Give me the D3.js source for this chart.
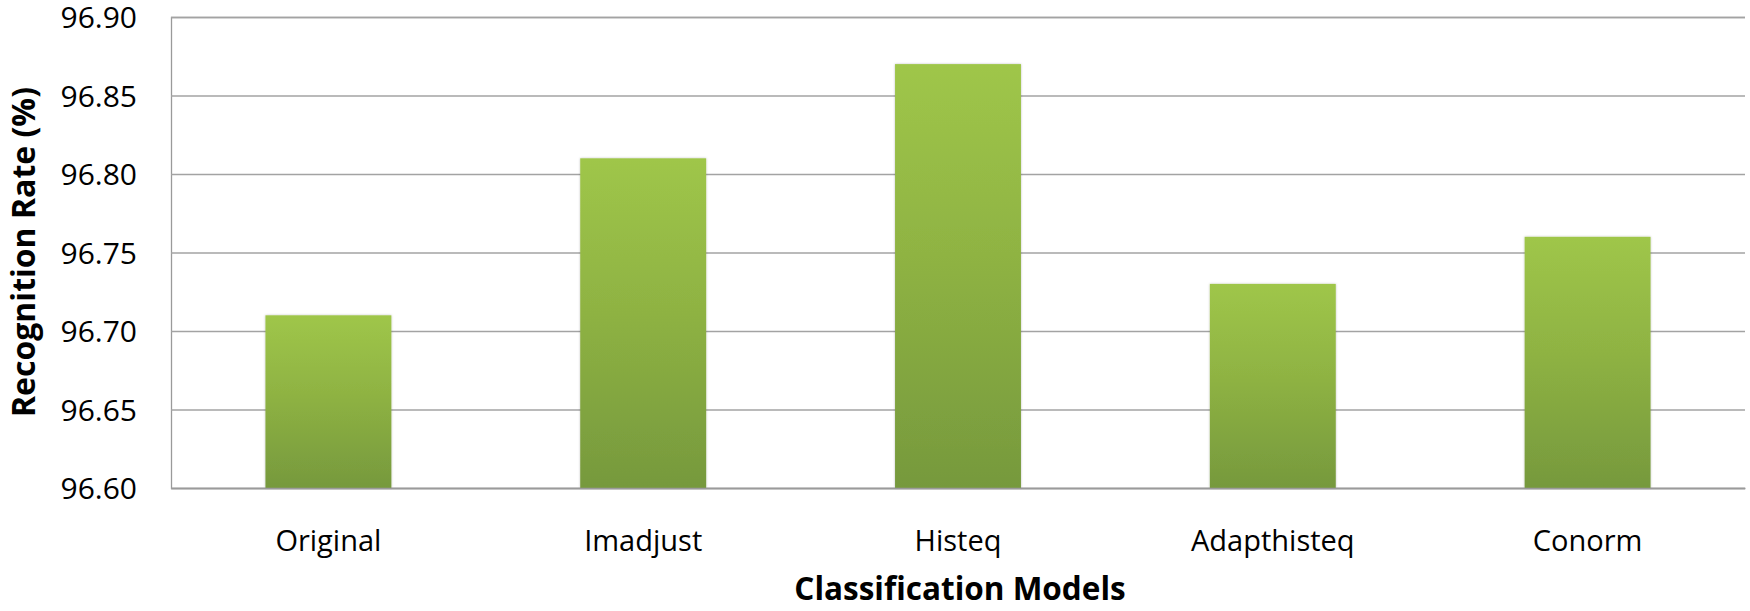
<!DOCTYPE html>
<html><head><meta charset="utf-8">
<script src="https://cdn.jsdelivr.net/npm/d3@7"></script>
<style>body{margin:0;background:#fff}svg{display:block}</style>
</head><body>
<svg id="c" width="1750" height="611"></svg>
<script>
const categories = ["Original", "Imadjust", "Histeq", "Adapthisteq", "Conorm"];
const values = [96.71, 96.81, 96.87, 96.73, 96.76];
const yTicks = [96.60, 96.65, 96.70, 96.75, 96.80, 96.85, 96.90];
const yTitle = "Recognition Rate (%)";
const xTitle = "Classification Models";

const svg = d3.select("#c");
const L = 171, R = 1745, T = 17, B = 488;
const x = d3.scaleBand().domain(categories).range([L, R]).padding(0);
const y = d3.scaleLinear().domain([96.60, 96.90]).range([B, T]);
const font = "'Open Sans', sans-serif";

const defs = svg.append("defs");
const g = defs.append("linearGradient").attr("id","bg").attr("x1",0).attr("y1",0).attr("x2",0).attr("y2",1);
g.append("stop").attr("offset","0%").attr("stop-color","#9fc649");
g.append("stop").attr("offset","45%").attr("stop-color","#8fb343");
g.append("stop").attr("offset","100%").attr("stop-color","#76993d");
const f = defs.append("filter").attr("id","sh").attr("x","-10%").attr("y","-10%").attr("width","120%").attr("height","120%");
f.append("feDropShadow").attr("dx",0).attr("dy",0).attr("stdDeviation",1.2).attr("flood-color","#000").attr("flood-opacity",0.25);

// gridlines
const yAxis = d3.axisLeft(y).tickValues(yTicks).tickSize(-(R - L)).tickPadding(34).tickFormat(d3.format(".2f"));
const ya = svg.append("g").attr("transform",`translate(${L},0)`).call(yAxis);
ya.select(".domain").attr("stroke","#9a9a9a").attr("stroke-width",1.3);
ya.selectAll(".tick line").attr("stroke","#a3a3a3").attr("stroke-width",1.3);
ya.selectAll(".tick text").attr("font-family",font).attr("font-size",30).attr("fill","#000").attr("dy","0.36em");

// bars
const bw = x.bandwidth() * 0.4;
svg.append("g").selectAll("rect").data(values).join("rect")
  .attr("x",(d,i)=>x(categories[i]) + x.bandwidth()/2 - bw/2)
  .attr("y",d=>y(d))
  .attr("width",bw)
  .attr("height",d=>y(96.60)-y(d))
  .attr("fill","url(#bg)")
  .attr("filter","url(#sh)");

// x axis
const xAxis = d3.axisBottom(x).tickSize(0).tickPadding(42);
const xa = svg.append("g").attr("transform",`translate(0,${B})`).call(xAxis);
xa.select(".domain").attr("stroke","#9a9a9a").attr("stroke-width",1.3);
xa.selectAll(".tick text").attr("font-family",font).attr("font-size",29).attr("fill","#000");

// titles
svg.append("text").attr("x",960).attr("y",600).attr("text-anchor","middle")
  .attr("font-family",font).attr("font-weight","bold").attr("font-size",31.5).text(xTitle);
svg.append("text").attr("transform","translate(35,252) rotate(-90)").attr("text-anchor","middle")
  .attr("font-family",font).attr("font-weight","bold").attr("font-size",32).text(yTitle);
</script>
</body></html>
